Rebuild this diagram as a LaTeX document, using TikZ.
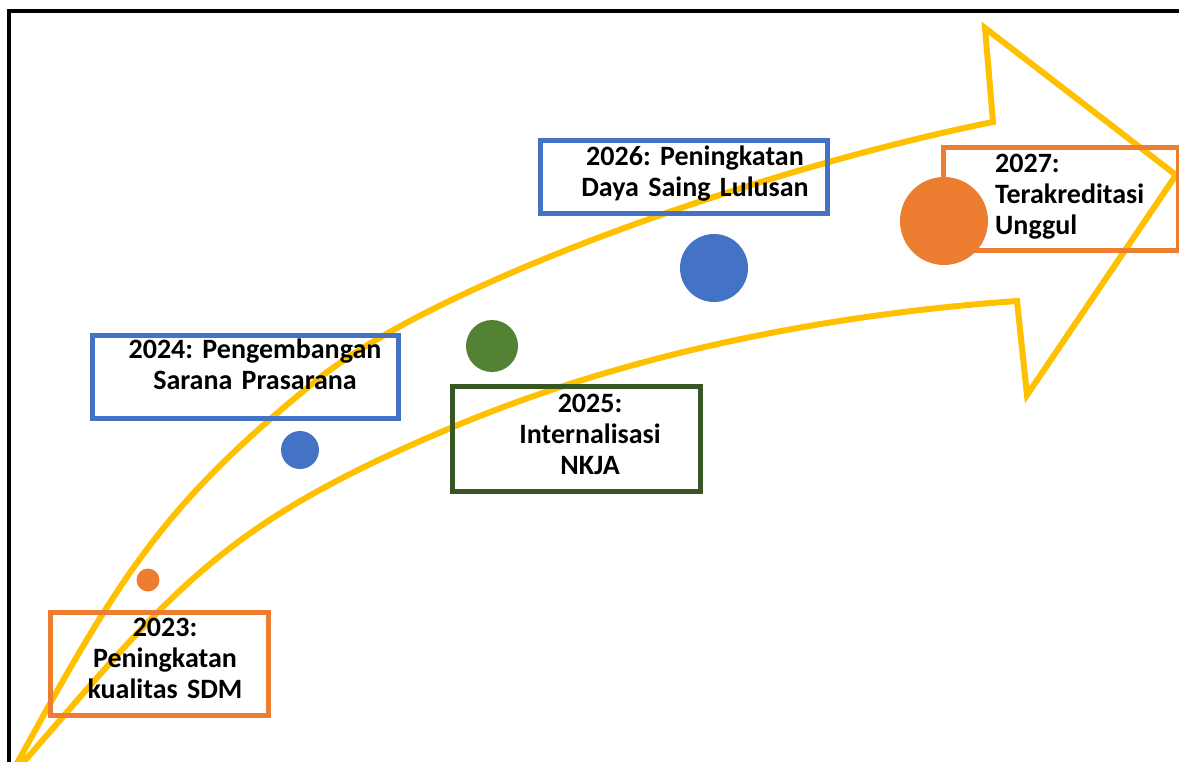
\documentclass[tikz,border=0pt]{standalone}
\usepackage{fontspec}
\setmainfont{Carlito}
\usepackage{xcolor}
\usepackage{tikz}
\usetikzlibrary{positioning}

\definecolor{roadyellow}{HTML}{FFC000}
\definecolor{roadorange}{HTML}{ED7D31}
\definecolor{roadblue}{HTML}{4472C4}
\definecolor{roadgreen}{HTML}{548235}
\definecolor{roaddkgreen}{HTML}{375623}

\tikzset{
  goalbox/.style={draw=#1, line width=5pt, rectangle, inner sep=0pt, outer sep=0pt},
  milestone/.style={circle, fill=#1, draw=none, inner sep=0pt},
  goaltext/.style={font=\fontsize{28}{31}\selectfont\bfseries\frenchspacing, inner sep=0pt, text width=#1},
  roadarrow/.style={draw=roadyellow, line width=6pt, line join=miter},
}

\begin{document}
\begin{tikzpicture}[x=1pt, y=-1pt]

  \useasboundingbox (0,0) rectangle (1179,761);
  \clip (0,0) rectangle (1179,761);

  % Frame
  \draw[line width=4pt] (8.5,800) |- (1200,11);

  % Curved arrow
  \draw[roadarrow] (8,780)
    .. controls (118,578) and (161,506) .. (317,380)
    .. controls (442,279) and (777,165) .. (993,122)
    -- (985,28) -- (1176,175) -- (1027,395) -- (1017,301)
    .. controls (827.5,314.3) and (628,353.5) .. (453,427)
    .. controls (213,527.6) and (172.5,591.75) .. (8,780) -- cycle;

  % Boxes
  \node[goalbox=roadorange, minimum width=218pt, minimum height=103pt] (box23) at (159,663.5) {};
  \node[goalbox=roadblue, minimum width=306pt, minimum height=83pt] (box24) at (245,376.5) {};
  \node[goalbox=roaddkgreen, minimum width=248pt, minimum height=105pt] (box25) at (576,438.5) {};
  \node[goalbox=roadblue, minimum width=287pt, minimum height=73pt] (box26) at (683.5,176.5) {};
  \node[goalbox=roadorange, minimum width=235pt, minimum height=103pt] (box27) at (1060.5,198.5) {};

  % Milestones
  \node[milestone=roadorange, minimum size=23pt] (dot23) at (148,580) {};
  \node[milestone=roadblue, minimum size=38pt] (dot24) at (300,450) {};
  \node[milestone=roadgreen, minimum size=52pt] (dot25) at (492,346) {};
  \node[milestone=roadblue, minimum size=68pt] (dot26) at (714,268) {};
  \node[milestone=roadorange, minimum size=88pt] (dot27) at (944,221) {};

  % Texts
  \node[goaltext=200pt, align=center, anchor=base] (txt23) at (165,636) {2023:\\Peningkatan\\kualitas SDM};
  \node[goaltext=300pt, align=center, anchor=base] (txt24) at (255,358) {2024: Pengembangan\\Sarana Prasarana};
  \node[goaltext=220pt, align=center, anchor=base] (txt25) at (590,412) {2025:\\Internalisasi\\NKJA};
  \node[goaltext=260pt, align=center, anchor=base] (txt26) at (695,165) {2026: Peningkatan\\Daya Saing Lulusan};
  \node[goaltext=180pt, align=left, anchor=base west] (txt27) at (995,172) {2027:\\Terakreditasi\\Unggul};

\end{tikzpicture}
\end{document}
